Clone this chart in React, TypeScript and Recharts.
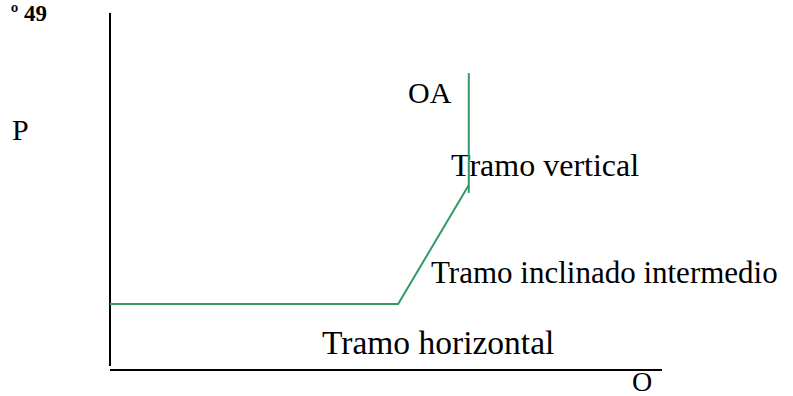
import { ComposedChart, Line, XAxis, YAxis, ReferenceLine } from 'recharts';

// Oferta agregada (OA): tramo horizontal, inclinado intermedio y vertical
const supplyQ = [0, 52.2, 65];
const supplyP = [18.5, 18.5, 51.8];
const verticalQ = [65, 65];
const verticalP = [49.6, 83.2];

const labels = ['Tramo horizontal', 'Tramo inclinado intermedio', 'Tramo vertical', 'OA'];

const curveColor = '#339966';
const font = '"Liberation Serif", "Times New Roman", serif';

const supplyData = supplyQ.map((q, i) => ({ q, p: supplyP[i] }));
const verticalData = verticalQ.map((q, i) => ({ q, p: verticalP[i] }));

export default function App() {
  return (
    <div style={{ position: 'absolute', left: 0, top: 0, width: 793, height: 396, background: '#fff' }}>
      <ComposedChart width={793} height={396} margin={{ top: 13, right: 131, bottom: 26, left: 110 }}>
        <XAxis type="number" dataKey="q" domain={[0, 100]} hide allowDataOverflow />
        <YAxis type="number" dataKey="p" domain={[0, 100]} hide allowDataOverflow />
        {/* ejes */}
        <ReferenceLine
          segment={[{ x: 0, y: 0 }, { x: 100, y: 0 }]}
          stroke="#000"
          strokeWidth={2}
          ifOverflow="visible"
        />
        <ReferenceLine
          segment={[{ x: 0, y: 1.1 }, { x: 0, y: 100 }]}
          stroke="#000"
          strokeWidth={2}
          ifOverflow="visible"
        />
        <Line
          data={supplyData}
          dataKey="p"
          type="linear"
          stroke={curveColor}
          strokeWidth={2}
          dot={false}
          isAnimationActive={false}
        />
        <Line
          data={verticalData}
          dataKey="p"
          type="linear"
          stroke={curveColor}
          strokeWidth={2}
          dot={false}
          isAnimationActive={false}
        />
        <g fontFamily={font} fill="#000">
          <text x={47} y={21} fontSize={23} fontWeight="bold" textAnchor="end">º 49</text>
          <text x={12} y={140} fontSize={30}>P</text>
          <text x={632} y={391} fontSize={28}>O</text>
          <text x={322} y={354} fontSize={33.5}>{labels[0]}</text>
          <text x={431} y={283} fontSize={31}>{labels[1]}</text>
          <text x={451} y={176} fontSize={32}>{labels[2]}</text>
          <text x={408} y={103} fontSize={30}>{labels[3]}</text>
        </g>
      </ComposedChart>
    </div>
  );
}
